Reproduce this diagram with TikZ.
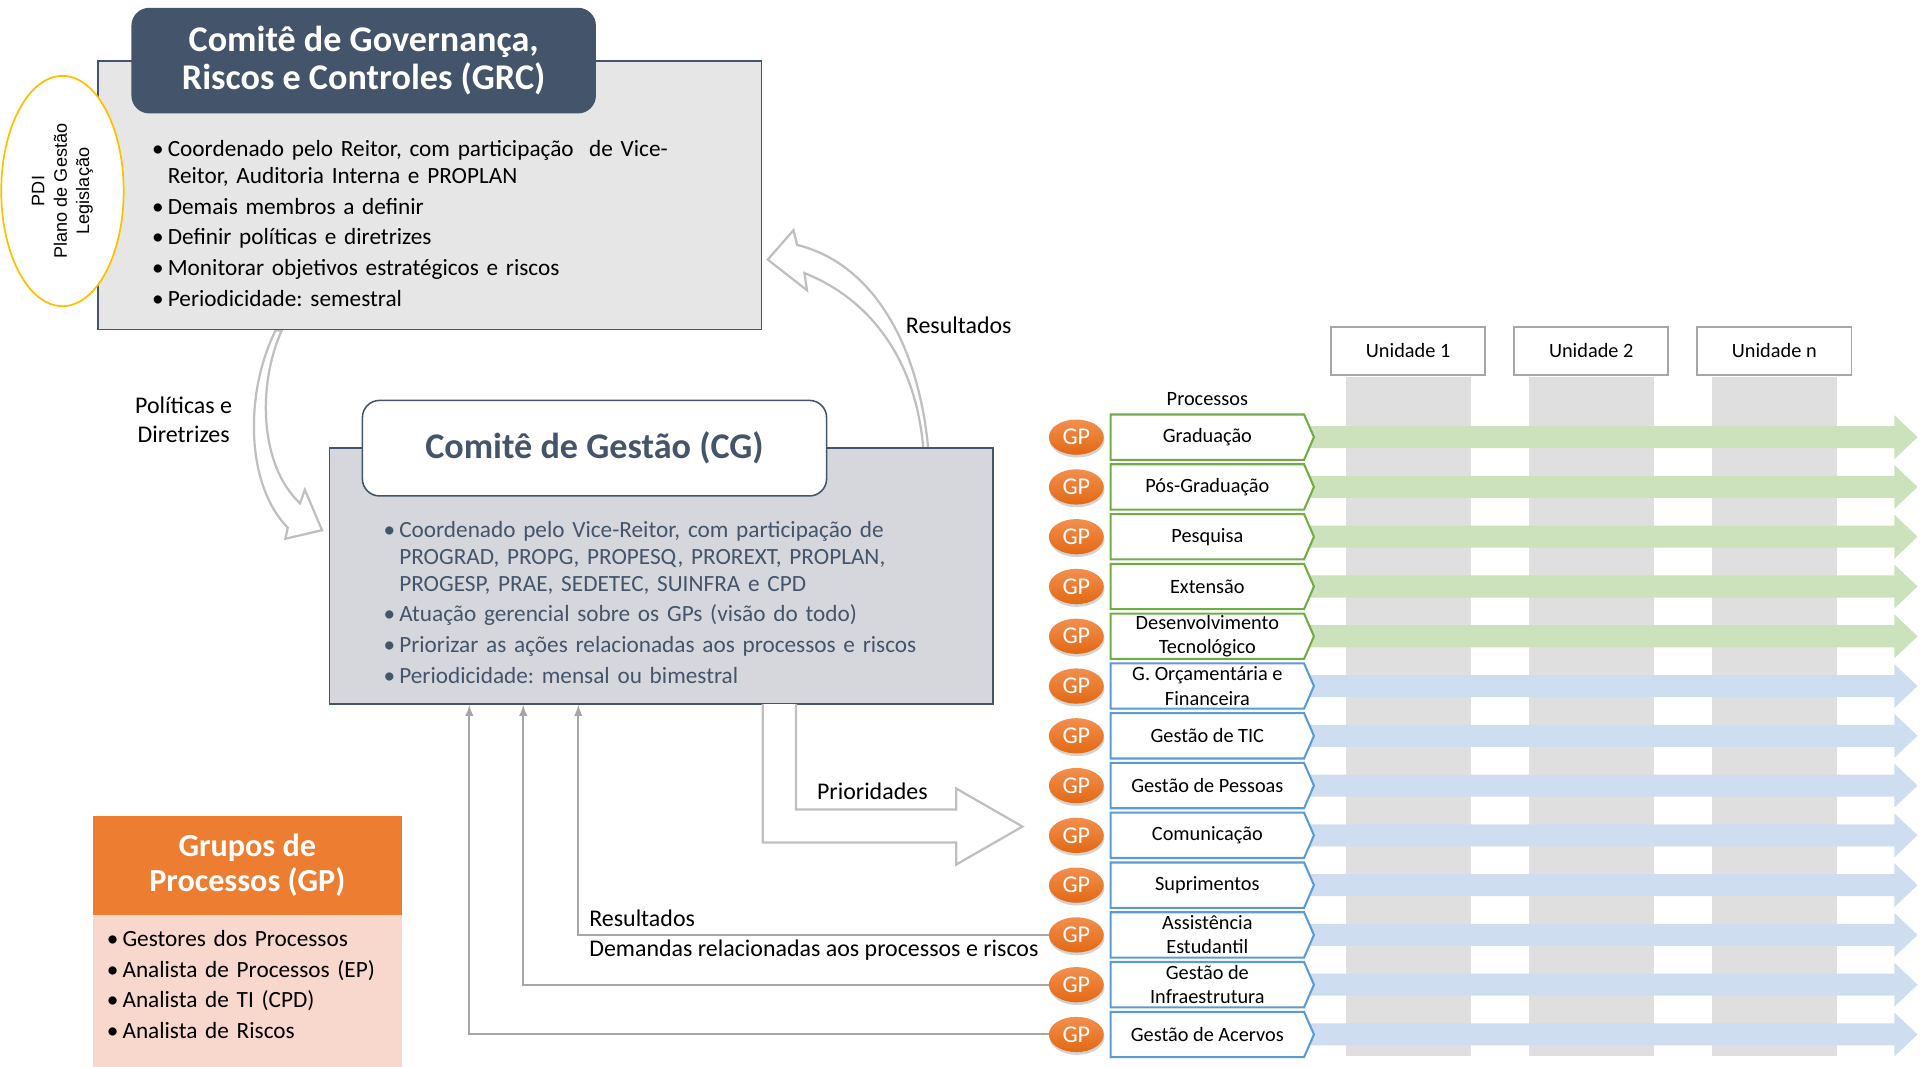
\documentclass[tikz,border=0pt]{standalone}
\usepackage{fontspec}
\setmainfont{Carlito}
\newfontfamily\pdifont{Liberation Sans}
\usetikzlibrary{positioning, calc, arrows, shadows,
                shapes.geometric, shapes.symbols}

\definecolor{slate}{RGB}{68,84,106}
\definecolor{grcfill}{RGB}{231,230,230}
\definecolor{cgfill}{RGB}{213,215,221}
\definecolor{gporange}{RGB}{237,125,49}
\definecolor{gplight}{RGB}{243,143,78}
\definecolor{gpdark}{RGB}{226,105,20}
\definecolor{gppink}{RGB}{248,215,205}
\definecolor{pdiyellow}{RGB}{255,192,0}
\definecolor{procgreen}{RGB}{112,173,71}
\definecolor{procblue}{RGB}{91,155,213}
\definecolor{bandgreen}{RGB}{204,226,189}
\definecolor{bandblue}{RGB}{206,222,240}
\definecolor{colgray}{RGB}{223,223,223}
\definecolor{arrowgray}{RGB}{191,191,191}
\definecolor{linegray}{RGB}{166,166,166}
\definecolor{unitgray}{RGB}{166,166,166}

\frenchspacing
\newlength{\bulletind}
\setlength{\bulletind}{0.32cm}
\newcommand{\bitem}[1]{\hangindent=\bulletind\hangafter=1\noindent\hbox to\bulletind{\textbullet\hss}#1\par\vskip2.2pt}
\newcommand{\txtbody}{\fontsize{13.5}{15.6}\selectfont}
\newcommand{\txtlabel}{\fontsize{13.9}{17}\selectfont}
\newcommand{\txtsmall}{\fontsize{11.8}{14}\selectfont}
\newcommand{\txthead}{\fontsize{21}{22}\selectfont\bfseries}
\newcommand{\txtgphead}{\fontsize{18.7}{19.8}\selectfont\bfseries}
\newcommand{\txtgp}{\fontsize{14}{15}\selectfont}
\newcommand{\txtpdi}{\pdifont\fontsize{10.5}{13}\selectfont}

\begin{document}
\begin{tikzpicture}[x=0.025cm, y=-0.025cm,
every node/.style = {inner sep=0pt},
     bigbox/.style = {rectangle, draw=slate, line width=0.9pt, minimum width=13.55cm},
    headbox/.style = {rectangle, rounded corners=0.35cm, draw=slate, line width=0.9pt, align=center, font=\txthead},
     bullets/.style = {anchor=base west, align=left, font=\txtbody},
         lbl/.style = {font=\txtlabel},
      hollow/.style = {draw=arrowgray, line width=1.3pt, fill=white, line join=miter},
        unit/.style = {rectangle, draw=unitgray, line width=1.1pt, fill=white, minimum width=3.15cm, minimum height=0.975cm, font=\txtsmall},
        proc/.style = {signal, signal to=east, signal pointer angle=133, fill=white, line width=1.2pt, minimum width=4.15cm, minimum height=0.925cm, align=center, font=\txtsmall},
          gp/.style = {ellipse, top color=gplight, bottom color=gpdark, text=white, minimum width=1.12cm, minimum height=0.72cm, font=\txtgp, drop shadow={shadow xshift=0.4pt, shadow yshift=-1.6pt, opacity=0.35}},
          fb/.style = {draw=linegray, line width=1.2pt, ->, >=latex}
                        ]
\useasboundingbox (0,0) rectangle (1568,871);

% curved arrows between the committees
\filldraw[hollow] (230,270) -- (225,270) .. controls (200,320) and (200,395) .. (235,431)
   -- (233,440) -- (263,433) -- (249,400) -- (245,411) .. controls (212,380) and (210,315) .. (230,270) -- cycle;
\filldraw[hollow] (754,366) -- (758,366) .. controls (750,280) and (712,215) .. (651,200)
   -- (648,188) -- (627,212) -- (659,237) -- (657,223) .. controls (712,245) and (748,295) .. (754,366) -- cycle;
\node[lbl, align=center] (pol) at (150,343) {Políticas e\\Diretrizes};
\node[lbl] (resgrc) at (783,266) {Resultados};

% GRC
\node[bigbox, fill=grcfill, minimum height=5.475cm] (grc) at (351,159.5) {};
\node[headbox, fill=slate, text=white, minimum width=9.45cm, minimum height=2.125cm] (grchead) at (297,49.5) {Comitê de Governança,\\Riscos e Controles (GRC)};
\node[bullets, text width=12.5cm] (grctext) at (124,128) {%
\bitem{Coordenado pelo Reitor, com participação \ de Vice-\newline Reitor, Auditoria Interna e PROPLAN}
\bitem{Demais membros a definir}
\bitem{Definir políticas e diretrizes}
\bitem{Monitorar objetivos estratégicos e riscos}
\bitem{Periodicidade: semestral}};
\node[ellipse, draw=pdiyellow, fill=white, line width=1pt, minimum width=2.5cm, minimum height=4.7cm] (pdi) at (51,156) {};
\node[rotate=90, align=center, font=\txtpdi] (pditext) at (pdi.center) {PDI\\Plano de Gestão\\Legislação};

% CG
\node[bigbox, fill=cgfill, minimum height=5.225cm] (cg) at (540,470.5) {};
\node[headbox, fill=white, text=slate, minimum width=9.475cm, minimum height=1.95cm] (cghead) at (485.5,366) {Comitê de Gestão (CG)};
\node[bullets, text width=12.3cm, text=slate] (cgtext) at (313,439) {%
\bitem{Coordenado pelo Vice-Reitor, com participação de\newline PROGRAD, PROPG, PROPESQ, PROREXT, PROPLAN,\newline PROGESP, PRAE, SEDETEC, SUINFRA e CPD}
\bitem{Atuação gerencial sobre os GPs (visão do todo)}
\bitem{Priorizar as ações relacionadas aos processos e riscos}
\bitem{Periodicidade: mensal ou bimestral}};

% prioridades
\filldraw[hollow] (623,575) -- (623,688) -- (781,688) -- (781,706) -- (835,675) -- (781,644) -- (781,661) -- (650,661) -- (650,575);
\node[lbl, anchor=base west] (prio) at (667,653) {Prioridades};

% GP
\node[rectangle, fill=gporange, text=white, align=center, minimum width=6.3cm, minimum height=2.025cm, font=\txtgphead] (gphead) at (202,706.5) {Grupos de\\Processos (GP)};
\node[rectangle, fill=gppink, minimum width=6.3cm, minimum height=3.1cm, below=0pt of gphead] (gpbody) {};
\node[bullets, text width=5.9cm] (gptext) at (87,773) {%
\bitem{Gestores dos Processos}
\bitem{Analista de Processos (EP)}
\bitem{Analista de TI (CPD)}
\bitem{Analista de Riscos}};

% unidades
\node[unit] (u1) at (1150,286.5) {Unidade 1};
\node[unit] (u2) at (1299.5,286.5) {Unidade 2};
\node[unit] (un) at (1449,286.5) {Unidade n};
\foreach \u in {u1,u2,un}
  \fill[colgray] ($(\u.south)+(-51,1)$) rectangle ($(\u.south)+(51,556)$);
\node[font=\txtsmall] (proctitle) at (986,326) {Processos};

% processos
\foreach \i/\txt/\clr in {1/Graduação/green, 2/Pós-Graduação/green, 3/Pesquisa/green,
    4/Extensão/green, 5/{Desenvolvimento\\Tecnológico}/green,
    6/{G. Orçamentária e\\Financeira}/blue, 7/Gestão de TIC/blue, 8/Gestão de Pessoas/blue,
    9/Comunicação/blue, 10/Suprimentos/blue, 11/{Assistência\\Estudantil}/blue,
    12/{Gestão de\\Infraestrutura}/blue, 13/Gestão de Acervos/blue}
{
  \pgfmathsetmacro{\y}{357+(\i-1)*40.65}
  \fill[band\clr] (1040,\y-9) -- (1547,\y-9) -- (1547,\y-18) -- (1566,\y) -- (1547,\y+18) -- (1547,\y+9) -- (1040,\y+9) -- cycle;
  \node[proc, draw=proc\clr] (p\i) at (986,\y) {\txt};
  \node[gp] (gp\i) at (879,\y) {GP};
}

% retorno dos GPs
\coordinate (in1) at ($(cg.south west)+(204,0)$);
\coordinate (in2) at ($(cg.south west)+(159,0)$);
\coordinate (in3) at ($(cg.south west)+(115,0)$);
\draw[fb] (gp11.west) -| (in1);
\draw[fb] (gp12.west) -| (in2);
\draw[fb] (gp13.west) -| (in3);
\node[lbl, anchor=base west] (resgp) at (481,757) {Resultados};
\node[lbl, anchor=base west] (demgp) at (481,781) {Demandas relacionadas aos processos e riscos};
\end{tikzpicture}
\end{document}
